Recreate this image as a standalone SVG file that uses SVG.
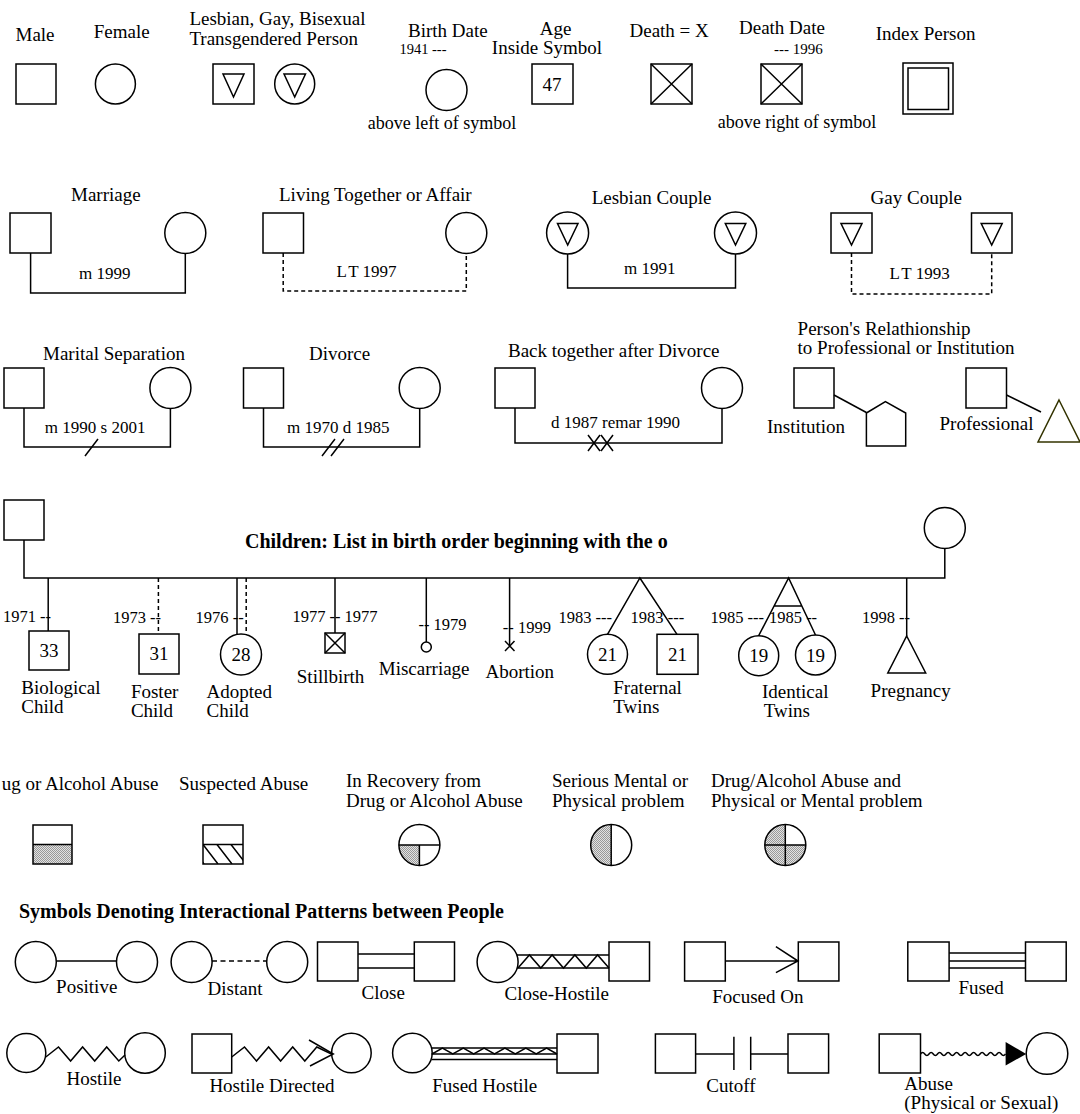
<svg xmlns="http://www.w3.org/2000/svg" width="1080" height="1114" viewBox="0 0 1080 1114">
<defs>
<style>
text{font-family:"Liberation Serif","Times New Roman",serif;font-size:19px;fill:#000}
.s{font-size:17px}
.d{font-size:16.5px}
.b{font-weight:bold;font-size:20px}
.m{text-anchor:middle}
.e{text-anchor:end}
.k{fill:none;stroke:#000;stroke-width:1.5}
.l{fill:none;stroke:#000;stroke-width:1.5}
.dash{stroke-dasharray:4 3}
.stip{fill:url(#stip)}
</style>
<pattern id="stip" width="2" height="2" patternUnits="userSpaceOnUse"><rect width="2" height="2" fill="#e2e2e2"/><rect width="1" height="1" fill="#999"/><rect x="1" y="1" width="1" height="1" fill="#999"/></pattern>
<clipPath id="hc"><rect x="203" y="844.5" width="40" height="19.5"/></clipPath>
</defs>
<rect width="1080" height="1114" fill="#fff"/>

<g id="connectors">
<!-- couples -->
<path class="l" d="M30.6,253 V293 H185.3 V253.5"/>
<path class="l dash" d="M283.2,253 V291 H466.3 V253.5"/>
<path class="l" d="M567.6,254 V288 H735.5 V254"/>
<path class="l dash" d="M851.5,253 V294 H991.7 V253"/>
<path class="l" d="M24,408 V447 H170.4 V408.5"/>
<path class="l" d="M85,456 L98,439"/>
<path class="l" d="M263.5,408 V447 H419.7 V408.5"/>
<path class="l" d="M322,456 L335,439 M331,456 L344,439"/>
<path class="l" d="M515,408 V443 H722 V408.5"/>
<path class="l" d="M588,435 L600,451 M588,451 L600,435 M601,435 L613,451 M601,451 L613,435"/>
<path class="l" d="M834,395 L866.4,412.5"/>
<path class="l" d="M1006.5,395 L1041,412"/>
<!-- children -->
<path class="l" d="M24,540 V578 H944.8 V548.5"/>
<path class="l" d="M48.2,578 V631"/>
<path class="l dash" d="M158.4,578 V634"/>
<path class="l" d="M237,578 V634.5"/>
<path class="l dash" d="M246.2,578 V635"/>
<path class="l" d="M335,578 V633"/>
<path class="l" d="M426.3,578 V642"/>
<path class="l" d="M509.6,578 V646"/>
<path class="l" d="M607.5,634.3 L639.9,578 L677,634.3"/>
<path class="l" d="M758.7,635.7 L788.6,578 L815.5,635 M774,606 H801.9"/>
<path class="l" d="M906.7,578 V636"/>
<!-- interactional patterns -->
<path class="l" d="M56.3,961 H116.5"/>
<path class="l" d="M212,961 H267" stroke-dasharray="5 3.5"/>
<path class="l" d="M358.1,954 H414.3 M358.1,968 H414.3"/>
<path class="l" d="M517,955 H609 M517,968 H609"/>
<path class="l" d="M518,968 L529.4,955 L540.8,968 L552.1,955 L563.5,968 L574.9,955 L586.3,968 L597.6,955 L609,968"/>
<path class="l" d="M725.3,961 H798 M775.9,946.7 L798,961 L775.9,972.7"/>
<path class="l" d="M949.1,953 H1025.5 M949.1,961 H1025.5 M949.1,968 H1025.5"/>
<path class="l" d="M45.8,1057 L58.5,1047 L70.6,1061 L82.6,1047 L94.7,1061 L106.7,1047 L118.8,1061 L125,1055"/>
<path class="l" d="M231.7,1057 L244.5,1047 L256.5,1061 L268.6,1047 L280.6,1061 L292.7,1047 L304.8,1061 L316.8,1047 L331.5,1054"/>
<path class="l" d="M309,1040 L333.3,1054 L310,1066"/>
<path class="l" d="M431.5,1048 H557 M431.5,1054 H557 M431.5,1059.5 H557"/>
<path class="l" d="M432,1054 L442.4,1048 L452.8,1054 L463.3,1048 L473.7,1054 L484.1,1048 L494.5,1054 L504.9,1048 L515.3,1054 L525.8,1048 L536.2,1054 L546.6,1048 L557,1054"/>
<path class="l" d="M695.6,1054 H733.9 M733.9,1036.7 V1070 M750.7,1036.7 V1070 M750.7,1054 H788"/>
<path class="l" stroke-width="1.3" d="M920.5,1054 q2.125,-3 4.25,0 t4.25,0 t4.25,0 t4.25,0 t4.25,0 t4.25,0 t4.25,0 t4.25,0 t4.25,0 t4.25,0 t4.25,0 t4.25,0 t4.25,0 t4.25,0 t4.25,0 t4.25,0 t4.25,0 t4.25,0 t4.25,0 t4.25,0"/>
<path d="M1005.6,1042 L1026.2,1054 L1005.6,1065.5 Z" fill="#000"/>
</g>

<!-- Row 1: basic symbols -->
<g id="male"><text x="15.5" y="40.5">Male</text><rect class="k" x="16" y="64" width="40" height="40"/></g>
<g id="female"><text x="93.7" y="38">Female</text><circle class="k" cx="115.4" cy="84" r="20"/></g>
<g id="lgbt"><text x="189.4" y="24.5">Lesbian, Gay, Bisexual</text><text x="189.4" y="44.5">Transgendered Person</text>
<rect class="k" x="213" y="64" width="41" height="40"/><path class="l" d="M223,74 H244 L233.5,97 Z"/>
<circle class="k" cx="294.7" cy="84" r="20"/><path class="l" d="M284,74 H305.5 L294.7,97 Z"/></g>
<g id="birth-date"><text x="408" y="37">Birth Date</text><text x="399.4" y="54" style="font-size:14.5px">1941 ---</text>
<circle class="k" cx="446.5" cy="90" r="20.5"/><text class="m" x="442" y="129" style="font-size:18px">above left of symbol</text></g>
<g id="age"><text class="m" x="555.5" y="34.5">Age</text><text class="m" x="547" y="54">Inside Symbol</text>
<rect class="k" x="532" y="64" width="41" height="40"/><text class="m" x="552" y="91">47</text></g>
<g id="death"><text x="629.5" y="37">Death = X</text><rect class="k" x="651" y="64" width="41" height="40"/><path class="l" d="M651,64 L692,104 M692,64 L651,104"/></g>
<g id="death-date"><text x="739" y="34">Death Date</text><text x="774" y="54" style="font-size:15px">--- 1996</text>
<rect class="k" x="761" y="64" width="41" height="40"/><path class="l" d="M761,64 L802,104 M802,64 L761,104"/>
<text class="m" x="797" y="128" style="font-size:18px">above right of symbol</text></g>
<g id="index-person"><text x="875.7" y="40">Index Person</text><rect class="k" x="903" y="63" width="50" height="51"/><rect class="k" x="908" y="68" width="40.5" height="41.5"/></g>

<!-- Row 2: couples -->
<g id="marriage"><text x="71" y="201">Marriage</text><rect class="k" x="10" y="213" width="41" height="40"/><circle class="k" cx="185.3" cy="233" r="20.5"/><text class="s" x="79" y="279">m 1999</text></g>
<g id="living-together"><text x="279" y="201">Living Together or Affair</text><rect class="k" x="263" y="213" width="40.5" height="40"/><circle class="k" cx="466.3" cy="233" r="20.5"/><text class="s" x="336.4" y="277">L<tspan dx="3">T 1997</tspan></text></g>
<g id="lesbian-couple"><text x="591.7" y="204">Lesbian Couple</text>
<circle class="k" cx="567.6" cy="233" r="21"/><path class="l" d="M557.5,223.5 H578 L567.7,245 Z"/>
<circle class="k" cx="735.5" cy="233" r="21"/><path class="l" d="M725.3,223.5 H745.8 L735.5,245 Z"/>
<text class="s" x="624" y="274">m 1991</text></g>
<g id="gay-couple"><text x="870.6" y="204">Gay Couple</text>
<rect class="k" x="831" y="213" width="41" height="40"/><path class="l" d="M841,223.5 H862 L851.5,245 Z"/>
<rect class="k" x="971.5" y="213" width="40.5" height="40"/><path class="l" d="M981.2,223.5 H1002.2 L991.7,245 Z"/>
<text class="s" x="889.5" y="279">L<tspan dx="3">T 1993</tspan></text></g>

<!-- Row 3 -->
<g id="separation"><text x="43" y="360">Marital Separation</text><rect class="k" x="4" y="368" width="40" height="40"/><circle class="k" cx="170.4" cy="388" r="20.5"/><text class="s" x="44.8" y="432.5">m 1990 s 2001</text></g>
<g id="divorce"><text x="309" y="360">Divorce</text><rect class="k" x="243.5" y="368" width="40" height="40"/><circle class="k" cx="419.7" cy="388" r="20.5"/><text class="s" x="287" y="432.5">m 1970 d 1985</text></g>
<g id="back-together"><text x="508" y="357">Back together after Divorce</text><rect class="k" x="495" y="368" width="40" height="40"/><circle class="k" cx="722" cy="388" r="20.5"/><text class="s" x="551" y="428">d 1987 remar 1990</text></g>
<g id="institution"><text x="797.6" y="335">Person's Relathionship</text><text x="797.6" y="354">to Professional or Institution</text>
<rect class="k" x="794" y="368" width="40" height="40"/><path class="k" d="M866.4,413 L885.4,401.5 L905.7,413 V446 H866.4 Z"/><text x="767" y="433">Institution</text></g>
<g id="professional"><rect class="k" x="966" y="368" width="40.5" height="40"/><path d="M1059,400 L1080,442 L1038,442 Z" fill="none" stroke="#333300" stroke-width="1.5"/><text x="939.5" y="430">Professional</text></g>

<!-- Row 4: children -->
<g id="father"><rect class="k" x="4" y="500" width="40" height="40"/></g>
<g id="mother"><circle class="k" cx="944.8" cy="528" r="20.5"/></g>
<text class="b" x="245" y="548">Children: List in birth order beginning with the o</text>
<g id="biological"><text class="d e" x="51" y="622">1971 --</text><rect class="k" x="29" y="631" width="40" height="39"/><text class="m" x="49" y="657">33</text><text x="21.3" y="694">Biological</text><text x="21.3" y="713">Child</text></g>
<g id="foster"><text class="d e" x="161" y="623">1973 --</text><rect class="k" x="139" y="634" width="40" height="40"/><text class="m" x="159" y="660">31</text><text x="130.9" y="698">Foster</text><text x="130.9" y="717">Child</text></g>
<g id="adopted"><text class="d" x="195.6" y="623">1976 --</text><circle class="k" cx="241" cy="654.5" r="20.5"/><text class="m" x="241" y="661">28</text><text x="206.6" y="698">Adopted</text><text x="206.6" y="717">Child</text></g>
<g id="stillbirth"><text class="d m" x="335" y="622">1977 -- 1977</text><rect class="k" x="325" y="633" width="20" height="20"/><path class="l" d="M325,633 L345,653 M345,633 L325,653"/><text x="296.8" y="683">Stillbirth</text></g>
<g id="miscarriage"><text class="d" x="418.4" y="630">-- 1979</text><circle class="k" cx="426.3" cy="647" r="5"/><text x="378.8" y="675">Miscarriage</text></g>
<g id="abortion"><text class="d" x="502.8" y="633">-- 1999</text><path class="l" d="M505,641 L514.5,651 M514.5,641 L505,651"/><text x="485.5" y="678">Abortion</text></g>
<g id="fraternal-twins"><text class="d e" x="612" y="623">1983 ---</text><text class="d" x="630.6" y="623">1983 ---</text>
<circle class="k" cx="607.5" cy="654.3" r="20"/><text class="m" x="607.5" y="661">21</text>
<rect class="k" x="657" y="634.3" width="41" height="40"/><text class="m" x="677.5" y="661">21</text>
<text x="613.3" y="694">Fraternal</text><text x="613.3" y="713">Twins</text></g>
<g id="identical-twins"><text class="d e" x="764" y="623">1985 ---</text><text class="d" x="769" y="623">1985 --</text>
<circle class="k" cx="758.7" cy="655.7" r="20"/><text class="m" x="758.7" y="662">19</text>
<circle class="k" cx="815.5" cy="655" r="20"/><text class="m" x="815.5" y="661.5">19</text>
<text x="762" y="698">Identical</text><text x="763.8" y="717">Twins</text></g>
<g id="pregnancy"><text class="d e" x="910" y="623">1998 --</text><path class="k" d="M906.7,636 L925.7,673 H887.8 Z"/><text x="870.6" y="697">Pregnancy</text></g>

<!-- Row 5: abuse / problems -->
<g id="drug-abuse"><text class="e" x="158.4" y="790">ug or Alcohol Abuse</text>
<rect class="stip" x="33" y="844.5" width="39" height="19.5"/><rect class="k" x="33" y="825" width="39" height="39"/><path class="l" d="M33,844.5 H72"/></g>
<g id="suspected-abuse"><text x="179" y="790">Suspected Abuse</text>
<g clip-path="url(#hc)"><path class="l" stroke-width="1.2" d="M189,844.5 l15,19.5 M203,844.5 l15,19.5 M217,844.5 l15,19.5 M231,844.5 l15,19.5"/></g>
<rect class="k" x="203" y="825" width="40" height="39"/><path class="l" d="M203,844.5 H243"/></g>
<g id="recovery"><text x="346" y="787">In Recovery from</text><text x="346" y="806.5">Drug or Alcohol Abuse</text>
<path class="stip" d="M419.4,845 H398.9 A20.5,20.5 0 0 0 419.4,865.5 Z"/><circle class="k" cx="419.4" cy="845" r="20.5"/><path class="l" d="M398.9,845 H439.9 M419.4,845 V865.5"/></g>
<g id="serious-problem"><text x="552" y="787">Serious Mental or</text><text x="552" y="806.5">Physical problem</text>
<path class="stip" d="M611.2,824.5 A20.5,20.5 0 0 0 611.2,865.5 Z"/><circle class="k" cx="611.2" cy="845" r="20.5"/><path class="l" d="M611.2,824.5 V865.5"/></g>
<g id="abuse-and-problem"><text x="711" y="787">Drug/Alcohol Abuse and</text><text x="711" y="806.5">Physical or Mental problem</text>
<path class="stip" d="M785.3,845 V824.5 A20.5,20.5 0 1 0 805.8,845 Z"/><circle class="k" cx="785.3" cy="845" r="20.5"/><path class="l" d="M785.3,824.5 V865.5 M764.8,845 H805.8"/></g>

<!-- Row 6/7: interactional patterns -->
<text class="b" x="19" y="918">Symbols Denoting Interactional Patterns between People</text>
<g id="positive"><circle class="k" cx="35.8" cy="962" r="20.5"/><circle class="k" cx="137" cy="962" r="20.5"/><text x="56.1" y="993">Positive</text></g>
<g id="distant"><circle class="k" cx="191.6" cy="962" r="20.5"/><circle class="k" cx="287.2" cy="962" r="20.5"/><text x="207.6" y="995">Distant</text></g>
<g id="close"><rect class="k" x="317.5" y="942" width="40.5" height="39"/><rect class="k" x="414.3" y="942" width="40.2" height="39"/><text x="361.6" y="999">Close</text></g>
<g id="close-hostile"><circle class="k" cx="497.6" cy="962" r="20.5"/><rect class="k" x="609" y="942" width="40.5" height="39"/><text x="504.5" y="1000">Close-Hostile</text></g>
<g id="focused-on"><rect class="k" x="684.6" y="942" width="40.7" height="39"/><rect class="k" x="798.3" y="942" width="40.6" height="39"/><text x="712.2" y="1003">Focused On</text></g>
<g id="fused"><rect class="k" x="907.8" y="942" width="41.3" height="39"/><rect class="k" x="1025.5" y="942" width="40.7" height="39"/><text x="958.4" y="994">Fused</text></g>
<g id="hostile"><circle class="k" cx="26.3" cy="1053" r="19.5"/><circle class="k" cx="145" cy="1053" r="20.3"/><text x="66.5" y="1085">Hostile</text></g>
<g id="hostile-directed"><rect class="k" x="192" y="1034" width="39.7" height="39"/><circle class="k" cx="351.4" cy="1053" r="19.8"/><text x="209.4" y="1092">Hostile Directed</text></g>
<g id="fused-hostile"><circle class="k" cx="412.4" cy="1053" r="19.8"/><rect class="k" x="557" y="1034" width="41" height="39"/><text x="432.2" y="1092">Fused Hostile</text></g>
<g id="cutoff"><rect class="k" x="655.4" y="1034" width="40.2" height="39"/><rect class="k" x="788" y="1034" width="40.6" height="39"/><text x="706.3" y="1092">Cutoff</text></g>
<g id="abuse"><rect class="k" x="879.2" y="1034" width="41.3" height="39"/><circle class="k" cx="1047" cy="1053.5" r="20.8"/><text x="904.3" y="1089.5">Abuse</text><text x="904.3" y="1108.5">(Physical or Sexual)</text></g>
</svg>
